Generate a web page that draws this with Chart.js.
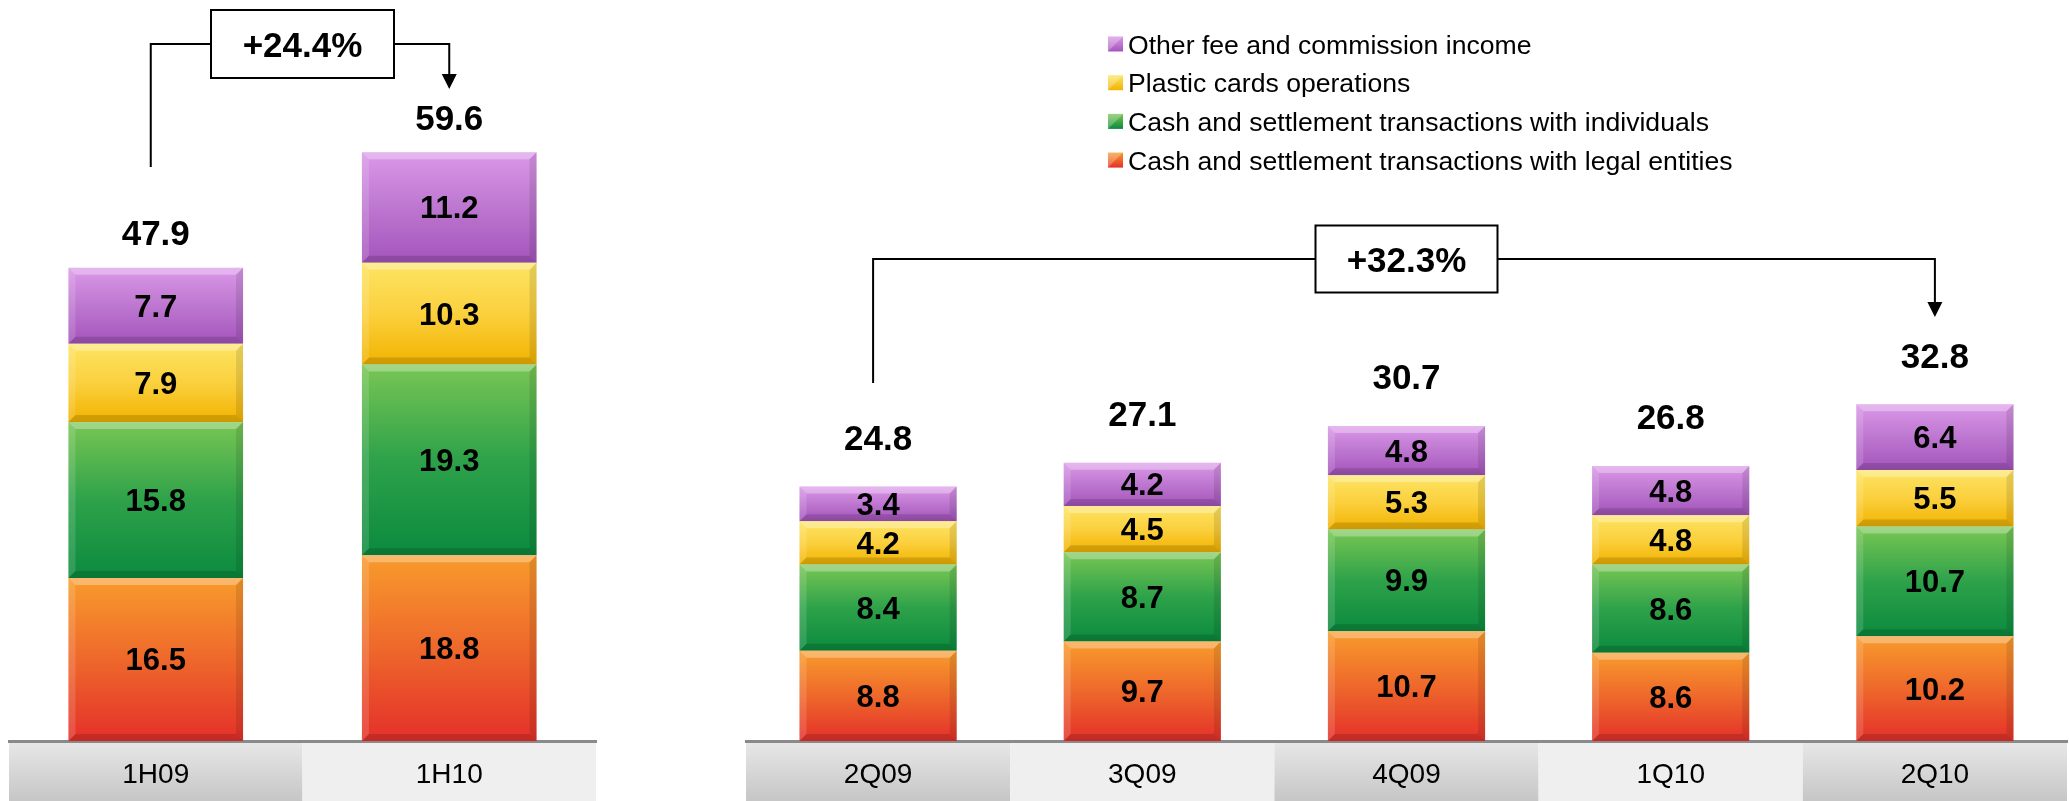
<!DOCTYPE html>
<html>
<head>
<meta charset="utf-8">
<title>Fee and commission income</title>
<script src="https://cdn.jsdelivr.net/npm/chart.js@4.4.1/dist/chart.umd.min.js"></script>
<style>
    html, body { margin: 0; padding: 0; background: #fff; }
    body { width: 2069px; height: 801px; position: relative; overflow: hidden; }
    .chart-box { position: absolute; top: 0; height: 801px; }
    #half-box { left: 0; width: 605px; }
    #quarter-box { left: 737px; width: 1332px; }
</style>
</head>
<body>
<div class="chart-box" id="half-box"><canvas id="half-chart"></canvas></div>
<div class="chart-box" id="quarter-box"><canvas id="quarter-chart"></canvas></div>
<script>
// 시리즈 이름 (아래에서 위로 쌓이는 순서)
const seriesNames = [
    'Cash and settlement transactions with legal entities',
    'Cash and settlement transactions with individuals',
    'Plastic cards operations',
    'Other fee and commission income'
];

// 반기 데이터
const halfLabels = ['1H09', '1H10'];
const halfLegal = [16.5, 18.8];
const halfIndividuals = [15.8, 19.3];
const halfCards = [7.9, 10.3];
const halfOther = [7.7, 11.2];

// 분기 데이터
const quarterLabels = ['2Q09', '3Q09', '4Q09', '1Q10', '2Q10'];
const quarterLegal = [8.8, 9.7, 10.7, 8.6, 10.2];
const quarterIndividuals = [8.4, 8.7, 9.9, 8.6, 10.7];
const quarterCards = [4.2, 4.5, 5.3, 4.8, 5.5];
const quarterOther = [3.4, 4.2, 4.8, 4.8, 6.4];

const FONT = '"Liberation Sans", Arial, Helvetica, sans-serif';

// 그라데이션 색 (위, 가운데, 아래)
const seriesColors = [
    ['#f89b2c', '#ee682b', '#e4302a'],
    ['#79c653', '#2ea24a', '#0b8a3e'],
    ['#fde463', '#fbd03e', '#f2b300'],
    ['#db98e8', '#bd77d0', '#a454bc']
];

function barGradient(stops) {
    return function(context) {
        const chart = context.chart;
        const yScale = chart.scales.y;
        if (context.type !== 'data' || !chart.chartArea || !yScale) return stops[1];
        const i = context.dataIndex;
        let start = 0;
        for (let k = 0; k < context.datasetIndex; k++) start += chart.data.datasets[k].data[i];
        const end = start + chart.data.datasets[context.datasetIndex].data[i];
        const g = chart.ctx.createLinearGradient(0, yScale.getPixelForValue(end), 0, yScale.getPixelForValue(start));
        g.addColorStop(0, stops[0]);
        g.addColorStop(0.5, stops[1]);
        g.addColorStop(1, stops[2]);
        return g;
    };
}

function totalsOf(chart) {
    return chart.data.labels.map((_, i) =>
        Math.round(chart.data.datasets.reduce((s, ds) => s + ds.data[i], 0) * 10) / 10);
}

function face(ctx, pts, color) {
    ctx.beginPath();
    ctx.moveTo(pts[0][0], pts[0][1]);
    for (let i = 1; i < pts.length; i++) ctx.lineTo(pts[i][0], pts[i][1]);
    ctx.closePath();
    ctx.fillStyle = color;
    ctx.fill();
}

// 카테고리 배경 띠
const bandPlugin = {
    id: 'bands',
    beforeDraw(chart) {
        const ctx = chart.ctx;
        const area = chart.chartArea;
        const n = chart.data.labels.length;
        const w = (area.right - area.left) / n;
        ctx.save();
        for (let i = 0; i < n; i++) {
            const x = area.left + i * w;
            if (i % 2 === 0) {
                const g = ctx.createLinearGradient(0, area.bottom, 0, chart.height);
                g.addColorStop(0, '#e8e8e8');
                g.addColorStop(1, '#c6c6c6');
                ctx.fillStyle = g;
            } else {
                ctx.fillStyle = '#efefef';
            }
            ctx.fillRect(x, area.bottom, w, chart.height - area.bottom);
        }
        ctx.restore();
    }
};

// 막대 입체감 + 값 라벨
const barLabelPlugin = {
    id: 'barLabels',
    afterDatasetsDraw(chart, args, opts) {
        const ctx = chart.ctx;
        ctx.save();
        chart.data.datasets.forEach((ds, d) => {
            chart.getDatasetMeta(d).data.forEach(bar => {
                const p = bar.getProps(['x', 'y', 'base', 'width'], true);
                const x0 = p.x - p.width / 2, x1 = p.x + p.width / 2;
                const y0 = Math.min(p.y, p.base), y1 = Math.max(p.y, p.base);
                const b = Math.min(7, (y1 - y0) / 3);
                face(ctx, [[x0, y0], [x1, y0], [x1 - b, y0 + b], [x0 + b, y0 + b]], 'rgba(255,255,255,0.30)');
                face(ctx, [[x0, y0], [x0 + b, y0 + b], [x0 + b, y1 - b], [x0, y1]], 'rgba(255,255,255,0.14)');
                face(ctx, [[x1, y0], [x1, y1], [x1 - b, y1 - b], [x1 - b, y0 + b]], 'rgba(0,0,0,0.10)');
                face(ctx, [[x0, y1], [x1, y1], [x1 - b, y1 - b], [x0 + b, y1 - b]], 'rgba(0,0,0,0.14)');
            });
        });

        ctx.fillStyle = '#000';
        ctx.textAlign = 'center';
        ctx.textBaseline = 'alphabetic';
        ctx.font = 'bold 31px ' + FONT;
        chart.data.datasets.forEach((ds, d) => {
            chart.getDatasetMeta(d).data.forEach((bar, i) => {
                const p = bar.getProps(['x', 'y', 'base'], true);
                ctx.fillText(ds.data[i].toFixed(1), p.x, (p.y + p.base) / 2 + 11);
            });
        });

        // 합계
        const totals = totalsOf(chart);
        const topMeta = chart.getDatasetMeta(chart.data.datasets.length - 1);
        ctx.font = 'bold 35px ' + FONT;
        topMeta.data.forEach((bar, i) => {
            const p = bar.getProps(['x', 'y'], true);
            ctx.fillText(totals[i].toFixed(1), p.x, p.y - opts.gap + 12.5);
        });
        ctx.restore();
    }
};

// 증가율 화살표
const growthPlugin = {
    id: 'growth',
    afterDraw(chart, args, opts) {
        const ctx = chart.ctx;
        const xs = chart.scales.x;
        const totals = totalsOf(chart);
        const xa = xs.getPixelForValue(opts.from) - 5;
        const xb = xs.getPixelForValue(opts.to);
        const mid = (xs.getPixelForValue(opts.from) + xb) / 2;
        const text = '+' + ((totals[opts.to] / totals[opts.from] - 1) * 100).toFixed(1) + '%';

        ctx.save();
        ctx.strokeStyle = '#000';
        ctx.lineWidth = 2;
        ctx.beginPath();
        ctx.moveTo(xa, opts.riseBottom);
        ctx.lineTo(xa, opts.lineY);
        ctx.lineTo(xb, opts.lineY);
        ctx.lineTo(xb, opts.tip - 14);
        ctx.stroke();
        face(ctx, [[xb - 7.5, opts.tip - 15], [xb + 7.5, opts.tip - 15], [xb, opts.tip]], '#000');

        const bx = mid - opts.boxW / 2, by = opts.lineY - opts.boxH / 2;
        ctx.fillStyle = '#fff';
        ctx.fillRect(bx, by, opts.boxW, opts.boxH);
        ctx.strokeRect(bx, by, opts.boxW, opts.boxH);
        ctx.fillStyle = '#000';
        ctx.font = 'bold 35px ' + FONT;
        ctx.textAlign = 'center';
        ctx.textBaseline = 'alphabetic';
        ctx.fillText(text, mid, opts.lineY + 12.5);
        ctx.restore();
    }
};

// 범례 (위에서부터 역순)
const legendListPlugin = {
    id: 'legendList',
    afterDraw(chart, args, opts) {
        if (!opts.show) return;
        const ctx = chart.ctx;
        const items = chart.data.datasets.map((ds, d) => ({ label: ds.label, stops: seriesColors[d] })).reverse();
        ctx.save();
        ctx.font = '26.6px ' + FONT;
        ctx.textAlign = 'left';
        ctx.textBaseline = 'alphabetic';
        items.forEach((item, k) => {
            const cy = opts.top + k * opts.step;
            const g = ctx.createLinearGradient(0, cy - 7.5, 0, cy + 7.5);
            g.addColorStop(0, item.stops[0]);
            g.addColorStop(1, item.stops[2]);
            ctx.fillStyle = g;
            ctx.fillRect(opts.x, cy - 7.5, 15, 15);
            face(ctx, [[opts.x, cy - 7.5], [opts.x + 15, cy - 7.5], [opts.x, cy + 7.5]], 'rgba(255,255,255,0.25)');
            ctx.fillStyle = '#000';
            ctx.fillText(item.label, opts.x + 20, cy + 9.5);
        });
        ctx.restore();
    }
};

function makeChart(canvasId, labels, series, yMax, padding, gap, growth, legend) {
    const ctx = document.getElementById(canvasId).getContext('2d');
    return new Chart(ctx, {
        type: 'bar',
        data: {
            labels: labels,
            datasets: series.map((values, d) => ({
                label: seriesNames[d],
                data: values,
                backgroundColor: barGradient(seriesColors[d]),
                borderWidth: 0,
                categoryPercentage: 1,
                barPercentage: 0.595
            }))
        },
        options: {
            responsive: true,
            maintainAspectRatio: false,
            animation: false,
            layout: { padding: padding },
            scales: {
                x: {
                    stacked: true,
                    grid: { display: false, drawTicks: false },
                    border: { display: true, color: '#8a8a8a', width: 3 },
                    ticks: {
                        color: '#000',
                        padding: 17,
                        maxRotation: 0,
                        font: { family: FONT, size: 28 }
                    },
                    afterFit: scale => { scale.height = 60; }
                },
                y: {
                    stacked: true,
                    display: false,
                    min: 0,
                    max: yMax
                }
            },
            plugins: {
                legend: { display: false },
                tooltip: { enabled: false },
                barLabels: { gap: gap },
                growth: growth,
                legendList: legend
            }
        },
        plugins: [bandPlugin, barLabelPlugin, growthPlugin, legendListPlugin]
    });
}

makeChart('half-chart', halfLabels,
    [halfLegal, halfIndividuals, halfCards, halfOther],
    75, { left: 9, right: 9, top: 0, bottom: 0 }, 35,
    { from: 0, to: 1, lineY: 44, riseBottom: 167, tip: 89, boxW: 183, boxH: 68 },
    { show: false });

makeChart('quarter-chart', quarterLabels,
    [quarterLegal, quarterIndividuals, quarterCards, quarterOther],
    72, { left: 9, right: 2, top: 2, bottom: 0 }, 49,
    { from: 0, to: 4, lineY: 259, riseBottom: 383, tip: 317, boxW: 182, boxH: 67 },
    { show: true, x: 371, top: 44, step: 38.7 });
</script>
</body>
</html>
